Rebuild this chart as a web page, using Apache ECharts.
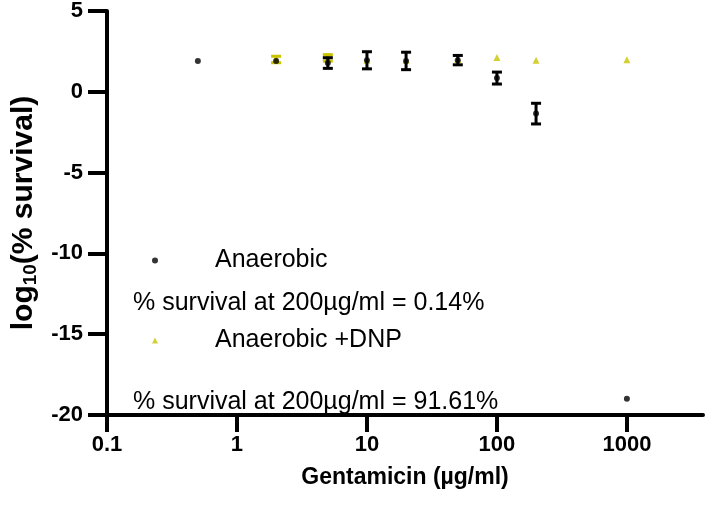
<!DOCTYPE html>
<html><head><meta charset="utf-8">
<script src="https://cdn.jsdelivr.net/npm/echarts@6/dist/echarts.min.js"></script>
<style>html,body{margin:0;padding:0;background:#fff}#c{width:708px;height:522px}</style>
</head><body><div id="c"></div>
<script>
// Data (log10 % survival vs gentamicin concentration)
const xTicks = [0.1, 1, 10, 100, 1000];
const yTicks = [5, 0, -5, -10, -15, -20];
const anaerobicConc = [0.5, 2, 5, 10, 20, 50, 100, 200, 1000];
const anaerobicMean = [1.91, 1.91, 1.78, 1.95, 1.91, 1.96, 0.85, -1.35, -19.0];
const anaerobicErr  = [0, 0, 0.33, 0.53, 0.54, 0.29, 0.37, 0.64, 0];
const dnpConc = [2, 5, 10, 20, 50, 100, 200, 1000];
const dnpMean = [2.0, 2.1, 1.95, 1.95, 2.0, 2.12, 1.96, 1.98];
const dnpErr  = [0.2, 0.2, 0, 0, 0, 0, 0, 0];
const seriesNames = ['Anaerobic', 'Anaerobic +DNP'];
const survivalTexts = ['% survival at 200µg/ml = 0.14%', '% survival at 200µg/ml = 91.61%'];

const BLACK = '#000000';
const YELLOW = '#c9c400';
const FONT = 'Liberation Sans, Arial, sans-serif';

function pts(xs, ys) { return xs.map((x, i) => [x, ys[i]]); }
function errs(xs, ys, es) {
  return xs.map((x, i) => [x, ys[i] - es[i], ys[i] + es[i]]).filter((d, i) => es[i] > 0);
}
function errRender(color) {
  return function (params, api) {
    const x = api.value(0);
    const lo = api.coord([x, api.value(1)]);
    const hi = api.coord([x, api.value(2)]);
    const hw = 5;
    const st = { stroke: color, lineWidth: 3 };
    return {
      type: 'group',
      children: [
        { type: 'line', shape: { x1: lo[0], y1: lo[1], x2: hi[0], y2: hi[1] }, style: st },
        { type: 'line', shape: { x1: hi[0] - hw, y1: hi[1], x2: hi[0] + hw, y2: hi[1] }, style: st },
        { type: 'line', shape: { x1: lo[0] - hw, y1: lo[1], x2: lo[0] + hw, y2: lo[1] }, style: st }
      ]
    };
  };
}

const chart = echarts.init(document.getElementById('c'), null, { renderer: 'canvas' });
chart.setOption({
  animation: false,
  backgroundColor: '#fff',
  grid: { left: 107, right: 5, top: 10, bottom: 107, containLabel: false },
  title: [
    { text: survivalTexts[0], left: 128, top: 283, textStyle: { fontFamily: FONT, fontSize: 25, fontWeight: 'normal', color: '#000', lineHeight: 30 } },
    { text: survivalTexts[1], left: 128, top: 382, textStyle: { fontFamily: FONT, fontSize: 25, fontWeight: 'normal', color: '#000', lineHeight: 30 } }
  ],
  legend: {
    orient: 'vertical', left: 147, top: 243,
    itemWidth: 6, itemHeight: 6, itemGap: 55,
    data: [
      { name: seriesNames[0], icon: 'circle', itemStyle: { color: BLACK } },
      { name: seriesNames[1], icon: 'triangle', itemStyle: { color: YELLOW } }
    ],
    formatter: n => '{t|' + n + '}',
    textStyle: { rich: { t: { fontFamily: FONT, fontSize: 25, color: '#000', lineHeight: 30, padding: [0, 0, 0, 52] } } },
    selectedMode: false
  },
  xAxis: {
    type: 'log', logBase: 10, min: 0.1, max: 3850,
    name: 'Gentamicin (µg/ml)', nameLocation: 'middle', nameGap: 51,
    nameTextStyle: { fontFamily: FONT, fontSize: 23, fontWeight: 'bold', color: '#000' },
    axisLine: { onZero: false, lineStyle: { color: '#000', width: 4 } },
    axisTick: { length: 17, lineStyle: { color: '#000', width: 4 }, customValues: xTicks },
    axisLabel: { customValues: xTicks, margin: 19, fontFamily: FONT, fontSize: 22, fontWeight: 'bold', color: '#000',
      formatter: v => String(v) },
    splitLine: { show: false }, minorTick: { show: false }
  },
  yAxis: {
    type: 'value', min: -20, max: 5, interval: 5,
    name: 'log{s|10}(% survival)', nameLocation: 'middle', nameGap: 66,
    nameTextStyle: { fontFamily: FONT, fontSize: 30, fontWeight: 'bold', color: '#000',
      rich: { s: { fontFamily: FONT, fontSize: 19, fontWeight: 'bold', color: '#000', verticalAlign: 'bottom', padding: [14, 0, 0, 0] } } },
    axisLine: { show: true, onZero: false, lineStyle: { color: '#000', width: 4 } },
    axisTick: { show: true, length: 19, lineStyle: { color: '#000', width: 4 } },
    axisLabel: { margin: 24, fontFamily: FONT, fontSize: 22, fontWeight: 'bold', color: '#000' },
    splitLine: { show: false }
  },
  series: [
    { type: 'custom', name: 'dnpErr', renderItem: errRender(YELLOW), data: errs(dnpConc, dnpMean, dnpErr), z: 2, silent: true },
    { type: 'scatter', name: seriesNames[1], symbol: 'triangle', symbolSize: 7, itemStyle: { color: YELLOW }, data: pts(dnpConc, dnpMean), z: 3 },
    { type: 'custom', name: 'anErr', renderItem: errRender(BLACK), data: errs(anaerobicConc, anaerobicMean, anaerobicErr), z: 4, silent: true },
    { type: 'scatter', name: seriesNames[0], symbol: 'circle', symbolSize: 6, itemStyle: { color: BLACK }, data: pts(anaerobicConc, anaerobicMean), z: 5 }
  ]
});
</script></body></html>
